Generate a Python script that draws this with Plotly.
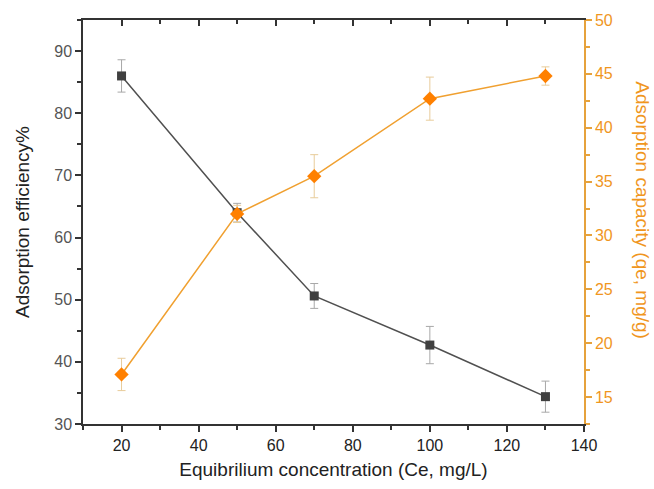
import plotly.graph_objects as go

conc = [20, 50, 70, 100, 130]
efficiency = [86.0, 64.0, 50.6, 42.7, 34.4]
efficiency_err = [2.6, 1.5, 2.0, 3.0, 2.5]
capacity = [17.1, 32.0, 35.5, 42.7, 44.8]
capacity_err = [1.5, 0.8, 2.0, 2.0, 0.85]

x_ticks = [20, 40, 60, 80, 100, 120, 140]
left_ticks = [30, 40, 50, 60, 70, 80, 90]
right_ticks = [15, 20, 25, 30, 35, 40, 45, 50]

FONT = "Liberation Sans, Arial, sans-serif"
ORANGE_LINE = "#f0a030"
ORANGE_MARK = "#ff8000"
ORANGE_AXIS = "#e6a23c"
ORANGE_TEXT = "#f0961e"
DARK = "#404040"

fig = go.Figure()
fig.add_trace(go.Scatter(
    x=conc, y=efficiency, mode="lines+markers",
    line=dict(color="#505050", width=1.5),
    marker=dict(symbol="square", size=9, color=DARK),
    error_y=dict(type="data", array=efficiency_err, color="#a8a8a8", thickness=1, width=4),
    showlegend=False, yaxis="y"))
fig.add_trace(go.Scatter(
    x=conc, y=capacity, mode="lines+markers",
    line=dict(color=ORANGE_LINE, width=1.5),
    marker=dict(symbol="diamond", size=11, color=ORANGE_MARK),
    error_y=dict(type="data", array=capacity_err, color="#e8cc9a", thickness=1, width=4),
    showlegend=False, yaxis="y2"))

fig.update_layout(
    width=654, height=489,
    margin=dict(l=83, r=70, t=20, b=65),
    paper_bgcolor="white", plot_bgcolor="white",
    font=dict(family=FONT, size=16, color="#222"),
    xaxis=dict(range=[10, 140], tickvals=x_ticks, showgrid=False, zeroline=False,
               showline=True, linecolor="#333", linewidth=1.5, mirror=True,
               ticks="outside", ticklen=6, tickcolor="#333", tickwidth=1.5,
               minor=dict(dtick=10, tick0=0, ticks="outside", ticklen=4, tickcolor="#333"),
               tickfont=dict(size=16, color="#222"),
               title=dict(text="Equibrilium concentration (Ce, mg/L)", font=dict(size=19, color="#222"), standoff=10)),
    xaxis2=dict(range=[10, 140], tickvals=x_ticks, overlaying="x", anchor="y", side="top",
                showgrid=False, zeroline=False, showline=False, showticklabels=False,
                ticks="inside", ticklen=6, tickcolor="#333", tickwidth=1.5,
                minor=dict(dtick=10, tick0=0, ticks="inside", ticklen=4, tickcolor="#333")),
    yaxis=dict(range=[30, 95], tickvals=left_ticks, showgrid=False, zeroline=False,
               showline=True, linecolor="#333", linewidth=1.5,
               ticks="outside", ticklen=6, tickcolor="#333", tickwidth=1.5,
               minor=dict(dtick=5, tick0=0, ticks="outside", ticklen=4, tickcolor="#333"),
               tickfont=dict(size=16, color="#555"),
               title=dict(text="Adsorption efficiency%", font=dict(size=19, color="#222"), standoff=20)),
    yaxis2=dict(range=[12.5, 50], tickvals=right_ticks, overlaying="y", side="right", anchor="x",
                showgrid=False, zeroline=False,
                showline=True, linecolor=ORANGE_AXIS, linewidth=1.5,
                ticks="outside", ticklen=6, tickcolor=ORANGE_AXIS, tickwidth=1.5,
                minor=dict(dtick=2.5, tick0=0, ticks="outside", ticklen=4, tickcolor=ORANGE_AXIS),
                tickfont=dict(size=16, color=ORANGE_TEXT)),
    annotations=[dict(text="Adsorption capacity (qe, mg/g)", xref="paper", yref="paper",
                      x=1.117, y=0.53, xanchor="center", yanchor="middle", textangle=90,
                      showarrow=False, font=dict(size=19, color=ORANGE_TEXT))],
)
fig.add_trace(go.Scatter(x=[None], y=[None], xaxis="x2", yaxis="y", showlegend=False, hoverinfo="skip"))

fig.write_html("out.html")
